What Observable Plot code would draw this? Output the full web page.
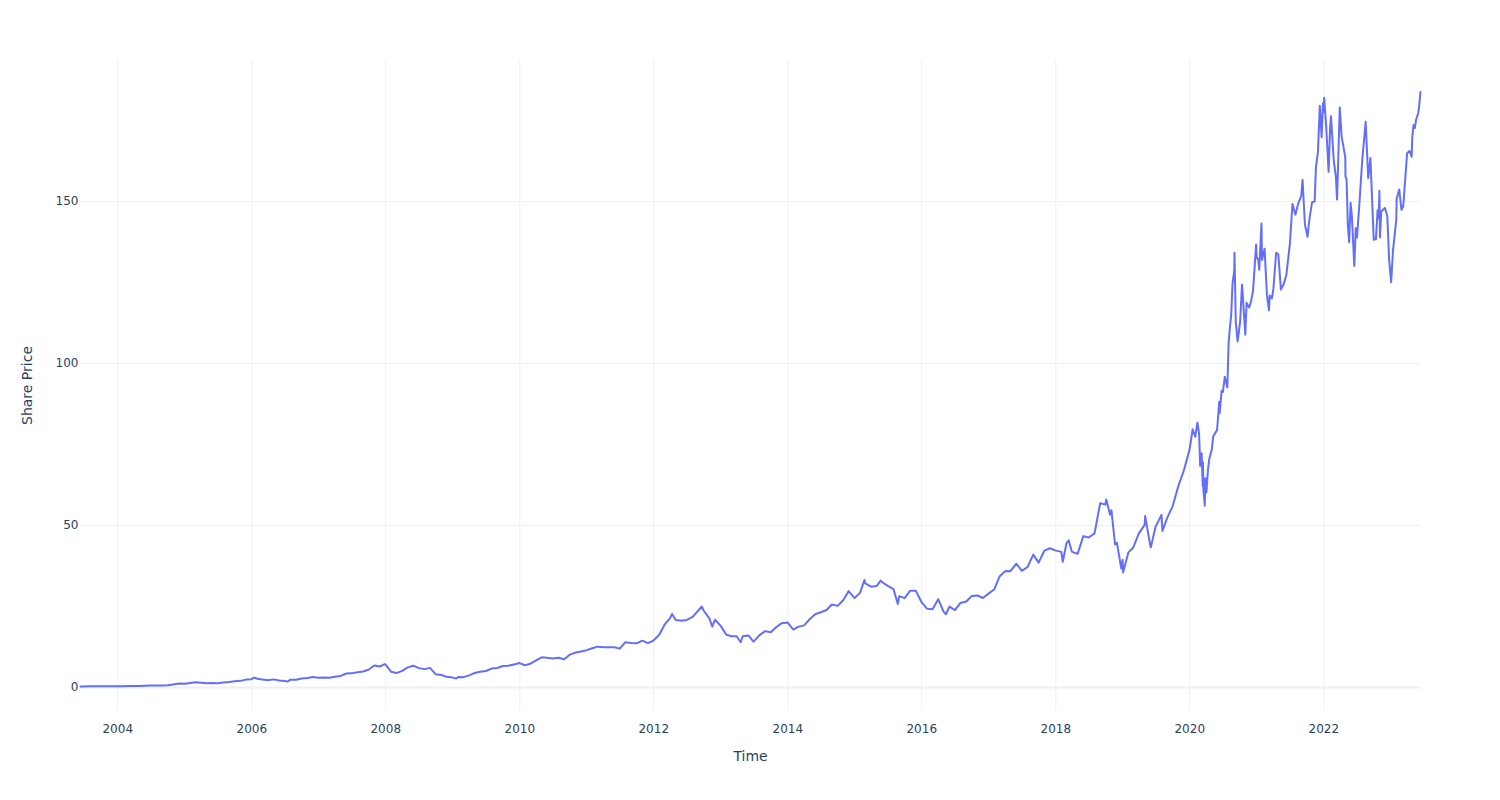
<!DOCTYPE html>
<html>
<head>
<meta charset="utf-8">
<script src="https://cdn.jsdelivr.net/npm/d3@7"></script>
<script src="https://cdn.jsdelivr.net/npm/@observablehq/plot@0.6"></script>
<style>
  html, body { margin: 0; padding: 0; background: #fff; }
  #chart { width: 1500px; height: 800px; }
</style>
</head>
<body>
<div id="chart"></div>
<script>
// ---- data ----
const dates = [
  "2003-06-12","2003-06-30","2003-07-31","2003-08-29","2003-09-30","2003-10-31","2003-11-28","2003-12-31",
  "2004-01-30","2004-02-27","2004-03-31","2004-04-30","2004-05-28","2004-06-30","2004-07-30","2004-08-31","2004-09-30","2004-10-29","2004-11-30","2004-12-31",
  "2005-01-31","2005-02-28","2005-03-31","2005-04-29","2005-05-31","2005-06-30","2005-07-29","2005-08-31","2005-09-30","2005-10-31","2005-11-30","2005-12-30",
  "2006-01-13","2006-01-31","2006-02-28","2006-03-31","2006-04-28","2006-05-31","2006-06-30","2006-07-14","2006-07-31","2006-08-31","2006-09-29","2006-10-31","2006-11-30","2006-12-29",
  "2007-01-31","2007-02-28","2007-03-30","2007-04-30","2007-05-31","2007-06-29","2007-07-31","2007-08-31","2007-09-28","2007-10-31","2007-11-30","2007-12-27","2007-12-31",
  "2008-01-31","2008-02-28","2008-03-31","2008-04-30","2008-05-30","2008-06-30","2008-07-31","2008-08-29","2008-09-30","2008-10-31","2008-11-28","2008-12-31",
  "2009-01-20","2009-01-30","2009-02-27","2009-03-31","2009-04-30","2009-05-29","2009-06-30","2009-07-31","2009-08-31","2009-09-30","2009-10-30","2009-11-30","2009-12-31",
  "2010-01-29","2010-02-26","2010-03-31","2010-04-30","2010-05-28","2010-06-30","2010-07-30","2010-08-31","2010-09-30","2010-10-29","2010-11-30","2010-12-31",
  "2011-01-31","2011-02-28","2011-03-31","2011-04-29","2011-05-31","2011-06-30","2011-07-29","2011-08-31","2011-09-30","2011-10-31","2011-11-30","2011-12-30",
  "2012-01-31","2012-02-29","2012-03-30","2012-04-10","2012-04-30","2012-05-31","2012-06-29","2012-07-31","2012-08-31","2012-09-19","2012-09-28","2012-10-31","2012-11-15","2012-11-30","2012-12-31",
  "2013-01-31","2013-02-28","2013-03-28","2013-04-19","2013-04-30","2013-05-31","2013-06-28","2013-07-31","2013-08-30","2013-09-30","2013-10-31","2013-11-29","2013-12-31",
  "2014-01-31","2014-02-28","2014-03-31","2014-04-30","2014-05-30","2014-06-30","2014-07-31","2014-08-29","2014-09-30","2014-10-31","2014-11-28","2014-12-31",
  "2015-01-30","2015-02-23","2015-02-27","2015-03-31","2015-04-30","2015-05-22","2015-05-29","2015-06-30","2015-07-31","2015-08-24","2015-08-31","2015-09-30","2015-10-30","2015-11-30","2015-12-31",
  "2016-01-29","2016-02-29","2016-03-31","2016-04-29","2016-05-12","2016-05-31","2016-06-30","2016-07-29","2016-08-31","2016-09-30","2016-10-31","2016-11-30","2016-12-30",
  "2017-01-31","2017-02-28","2017-03-31","2017-04-28","2017-05-31","2017-06-30","2017-07-31","2017-08-31","2017-09-29","2017-10-31","2017-11-30","2017-12-29",
  "2018-01-31","2018-02-08","2018-02-28","2018-03-12","2018-03-29","2018-04-20","2018-04-30","2018-05-31","2018-06-29","2018-07-31","2018-08-31","2018-09-28","2018-10-03","2018-10-24","2018-10-31","2018-11-20","2018-11-30","2018-12-24","2018-12-31",
  "2019-01-03","2019-01-31","2019-02-28","2019-03-29","2019-04-30","2019-05-03","2019-05-31","2019-06-03","2019-06-28","2019-07-31","2019-08-05","2019-08-30","2019-09-30","2019-10-31","2019-11-29","2019-12-31",
  "2020-01-17","2020-01-31","2020-02-12","2020-02-21","2020-02-27","2020-03-06","2020-03-12","2020-03-13","2020-03-16","2020-03-23","2020-03-26","2020-04-01","2020-04-09","2020-04-17","2020-04-30","2020-05-08","2020-05-29","2020-06-10","2020-06-12","2020-06-23","2020-06-30","2020-07-10","2020-07-24","2020-07-31","2020-08-07","2020-08-14","2020-08-21","2020-08-31","2020-09-01","2020-09-08","2020-09-18","2020-10-02","2020-10-12","2020-10-23","2020-10-30","2020-11-06","2020-11-20","2020-11-30","2020-12-11","2020-12-28","2020-12-31",
  "2021-01-08","2021-01-14","2021-01-26","2021-01-29","2021-02-12","2021-02-25","2021-03-08","2021-03-12","2021-03-24","2021-04-01","2021-04-16","2021-04-28","2021-05-12","2021-05-28","2021-06-11","2021-06-30","2021-07-14","2021-07-30","2021-08-13","2021-08-31","2021-09-07","2021-09-20","2021-10-04","2021-10-15","2021-10-29","2021-11-12","2021-11-19","2021-11-30","2021-12-10","2021-12-20","2021-12-27","2021-12-31",
  "2022-01-03","2022-01-14","2022-01-27","2022-02-04","2022-02-09","2022-02-24","2022-03-08","2022-03-14","2022-03-29","2022-04-08","2022-04-28","2022-04-29","2022-05-05","2022-05-12","2022-05-19","2022-05-27","2022-06-03","2022-06-16","2022-06-24","2022-07-01","2022-07-15","2022-07-29","2022-08-17","2022-08-31","2022-09-12","2022-09-30","2022-10-12","2022-10-21","2022-10-27","2022-10-31","2022-11-03","2022-11-10","2022-11-30","2022-12-13","2022-12-23",
  "2023-01-03","2023-01-13","2023-01-31","2023-02-02","2023-02-16","2023-02-28","2023-03-10","2023-03-31","2023-04-13","2023-04-25","2023-04-28","2023-05-05","2023-05-12","2023-05-19","2023-05-31","2023-06-05","2023-06-12"
];
const prices = [
  0.33,0.34,0.38,0.40,0.37,0.41,0.37,0.38,
  0.40,0.43,0.48,0.46,0.50,0.58,0.58,0.62,0.69,0.94,1.20,1.15,
  1.37,1.60,1.49,1.29,1.42,1.31,1.52,1.68,1.91,2.05,2.43,2.57,
  3.06,2.70,2.45,2.24,2.51,2.13,2.04,1.81,2.42,2.41,2.75,2.90,3.26,3.03,
  3.06,3.02,3.32,3.56,4.33,4.36,4.69,4.93,5.48,6.78,6.48,7.20,7.07,
  4.83,4.45,5.12,6.21,6.73,5.98,5.67,6.05,4.06,3.84,3.29,3.05,
  2.79,3.22,3.19,3.75,4.49,4.85,5.09,5.83,6.00,6.62,6.73,7.11,7.53,
  6.86,7.31,8.39,9.33,9.18,8.98,9.19,8.69,10.13,10.74,11.11,11.52,
  12.12,12.61,12.45,12.44,12.42,11.99,13.95,13.71,13.62,14.46,13.69,14.46,
  16.30,19.37,21.41,22.70,20.86,20.63,20.86,21.81,23.76,25.00,23.83,21.25,18.75,20.91,19.01,
  16.27,15.81,15.81,13.95,15.81,16.06,14.15,16.16,17.40,17.03,18.68,19.86,20.04,
  17.88,18.79,19.17,21.07,22.61,23.23,23.90,25.63,25.19,27.00,29.73,27.59,
  29.29,33.20,32.12,31.11,31.29,33.00,32.57,31.36,30.33,25.80,28.19,27.58,29.88,29.82,26.32,
  24.34,24.17,27.25,23.44,22.60,24.97,23.90,26.05,26.53,28.26,28.39,27.63,28.96,
  30.34,34.25,35.92,35.91,38.19,36.01,37.18,41.00,38.53,42.26,42.96,42.31,
  41.86,38.80,44.53,45.40,41.95,41.40,41.31,46.72,46.28,47.57,56.91,56.44,58.00,53.30,54.72,44.20,44.65,36.70,39.44,
  35.50,41.61,43.29,47.49,50.17,52.90,43.77,43.30,49.48,53.26,48.30,52.19,55.99,62.19,66.81,73.41,
  79.70,77.38,81.80,78.30,68.40,72.30,62.10,69.50,60.60,56.10,64.60,60.20,67.00,70.70,73.40,77.50,79.50,88.20,84.70,91.60,91.20,95.90,92.60,106.30,111.10,114.90,124.40,129.00,134.20,112.80,106.80,113.00,124.40,115.00,108.90,118.70,117.30,119.10,122.40,136.70,132.70,
  132.10,128.90,143.20,131.96,135.40,121.00,116.40,121.00,120.10,123.00,134.20,133.60,122.80,124.60,127.40,137.00,149.20,145.90,149.10,151.80,156.70,142.90,139.10,144.80,149.80,150.00,160.60,165.30,179.50,169.80,180.30,177.60,
  182.00,173.10,159.20,172.40,176.30,162.70,157.40,150.60,179.00,170.10,163.60,157.70,156.80,142.60,137.40,149.60,145.40,130.10,141.70,138.90,150.20,162.50,174.60,157.20,163.40,138.20,138.30,147.30,144.80,153.30,138.90,146.90,148.00,145.50,131.90,
  125.10,134.80,144.30,150.80,153.70,147.40,148.50,164.90,165.60,163.80,169.70,173.60,172.60,175.20,177.30,179.60,183.80
];
const xTickYears = [2004, 2006, 2008, 2010, 2012, 2014, 2016, 2018, 2020, 2022];
const yTicks = [0, 50, 100, 150];
const xTitle = "Time";
const yTitle = "Share Price";

// ---- build ----
const data = dates.map((d, i) => ({date: new Date(d), price: prices[i]}));
const xTicks = xTickYears.map(y => new Date(Date.UTC(y, 0, 1)));
const gridColor = "#EBF0F8";
const textColor = "#2a3f5f";

const chart = Plot.plot({
  width: 1500,
  height: 800,
  marginLeft: 80,
  marginRight: 80,
  marginTop: 60,
  marginBottom: 90,
  style: {fontFamily: '"DejaVu Sans", Verdana, sans-serif', fontSize: "12px", color: textColor, background: "#fff"},
  x: {type: "utc", domain: [data[0].date, data[data.length - 1].date]},
  y: {domain: [-7.1, 193.5]},
  marks: [
    Plot.gridX(xTicks, {stroke: gridColor, strokeOpacity: 1, strokeWidth: 1}),
    Plot.gridY(yTicks.filter(v => v !== 0), {stroke: gridColor, strokeOpacity: 1, strokeWidth: 1}),
    Plot.ruleY([0], {stroke: gridColor, strokeWidth: 2}),
    Plot.axisX(xTicks, {tickSize: 0, tickPadding: 13.5, tickFormat: d3.utcFormat("%Y"), label: null, fill: textColor, fontSize: 12}),
    Plot.axisY(yTicks, {tickSize: 0, tickPadding: 2, label: null, fill: textColor, fontSize: 12}),
    Plot.lineY(data, {x: "date", y: "price", stroke: "#636efa", strokeWidth: 2}),
    Plot.text([xTitle], {frameAnchor: "bottom", text: d => d, dy: 46, fontSize: 14, fill: textColor, textAnchor: "middle", lineAnchor: "middle"}),
    Plot.text([yTitle], {frameAnchor: "left", text: d => d, dx: -53, rotate: -90, fontSize: 14, fill: textColor, textAnchor: "middle", lineAnchor: "middle"})
  ]
});
document.getElementById("chart").appendChild(chart);
</script>
</body>
</html>
